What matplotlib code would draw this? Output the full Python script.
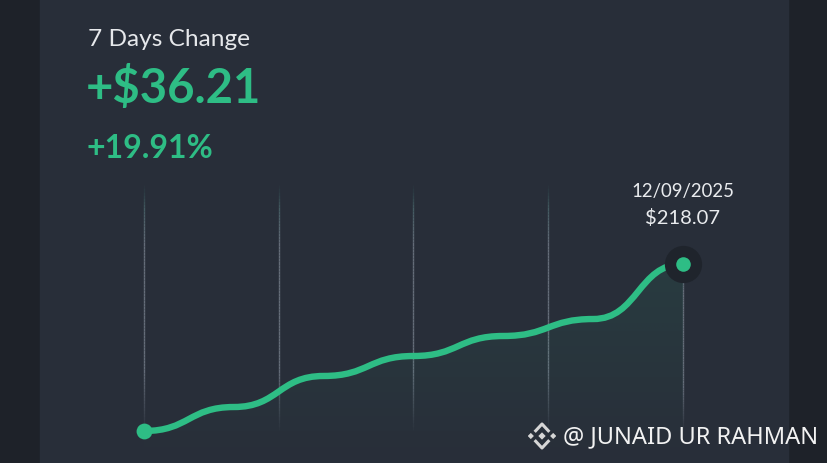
import numpy as np
import matplotlib
matplotlib.use("Agg")
import matplotlib.pyplot as plt
from matplotlib.path import Path
from matplotlib.patches import PathPatch, Rectangle
from matplotlib.collections import LineCollection

# 7 day price history
dates = ["12/03/2025", "12/04/2025", "12/05/2025", "12/06/2025",
         "12/07/2025", "12/08/2025", "12/09/2025"]
prices = [181.86, 187.06, 193.79, 198.12, 202.46, 206.14, 218.07]
change_abs = "+$36.21"
change_pct = "+19.91%"
title = "7 Days Change"
watermark = "@ JUNAID UR RAHMAN"

GREEN = "#2ebd85"
PANEL = "#282e39"
OUTER = "#1e2229"
W, H = 828, 464

fig = plt.figure(figsize=(W / 100, H / 100), dpi=100)
fig.patch.set_facecolor(OUTER)
fig.patches.append(Rectangle((40 / W, 0), 748 / W, 1, transform=fig.transFigure,
                             color=PANEL, zorder=-5))

# axes over the whole figure, scaled so the line sits where it does in the card
ax = fig.add_axes([0, 0, 1, 1])
ax.set_facecolor("none")
ax.axis("off")
x = np.arange(len(prices))
px_per_day = (683 - 144) / (len(prices) - 1)
val_per_px = (prices[-1] - prices[0]) / (432 - 265)
top_val = prices[0] + (432 - 183) * val_per_px
base_val = prices[0] - (H - 432) * val_per_px

# vertical guide lines, fading at both ends
for gx in np.linspace(x[0], x[-1], 5):
    y0 = top_val if gx < x[-1] else prices[-1] + 20 * val_per_px
    y1 = prices[0] - 2 * val_per_px
    ys = np.linspace(y0, y1, 80)
    segs = [[(gx, ys[i]), (gx, ys[i + 1])] for i in range(len(ys) - 1)]
    t = np.linspace(0, 1, len(segs))
    cols = np.zeros((len(segs), 4))
    mix = np.clip(t / 0.25, 0, 1)[:, None]
    cols[:, :3] = (1 - mix) * np.array([0.18, 0.32, 0.33]) + mix * np.array([0.42, 0.45, 0.50])
    cols[:, 3] = np.clip(np.minimum(t / 0.1, (1 - t) / 0.25), 0, 1) * 0.9
    ax.add_collection(LineCollection(segs, colors=cols, linewidths=1.0, zorder=1))

# smooth curve as cubic bezier with flat tangents at each point
verts = [(x[0], prices[0])]
codes = [Path.MOVETO]
for i in range(len(x) - 1):
    dx = x[i + 1] - x[i]
    verts += [(x[i] + dx * 0.5, prices[i]), (x[i + 1] - dx * 0.5, prices[i + 1]),
              (x[i + 1], prices[i + 1])]
    codes += [Path.CURVE4] * 3
line_path = Path(verts, codes)
fill_path = Path(verts + [(x[-1], base_val), (x[0], base_val), (x[0], prices[0])],
                 codes + [Path.LINETO, Path.LINETO, Path.CLOSEPOLY])

fill_patch = PathPatch(fill_path, facecolor="none", edgecolor="none")
ax.add_patch(fill_patch)
grad = np.zeros((100, 2, 4))
grad[:, :, :3] = np.array([46, 189, 133]) / 255
grad[:, :, 3] = np.linspace(0.10, 0.0, 100)[:, None]
img = ax.imshow(grad, extent=(x[0], x[-1], base_val, prices[-1]), origin="upper",
                aspect="auto", zorder=2, interpolation="bilinear")
img.set_clip_path(fill_patch)
ax.set_xlim(-144 / px_per_day, (W - 144) / px_per_day)
ax.set_ylim(prices[0] - (H - 432) * val_per_px, prices[0] + 432 * val_per_px)

ax.add_patch(PathPatch(line_path, facecolor="none", edgecolor=GREEN, lw=4.6,
                       capstyle="round", zorder=3))

# start and end markers
ax.scatter([x[0]], [prices[0]], s=130, color=GREEN, zorder=4, linewidths=0)
ax.scatter([x[-1]], [prices[-1]], s=720, color="#1f242c", zorder=4, linewidths=0)
ax.scatter([x[-1]], [prices[-1]], s=110, color=GREEN, zorder=5, linewidths=0)

# label above the last point
ax.text(x[-1], prices[-1] + 73.5 * val_per_px, dates[-1], color="#e9ebee",
        fontsize=13.4, family="Lato", ha="center", va="center", zorder=6)
ax.text(x[-1], prices[-1] + 47.5 * val_per_px, f"${prices[-1]:.2f}", color="#e9ebee",
        fontsize=14.5, family="Lato", ha="center", va="center", zorder=6)

# header texts
fig.text(88 / W, 1 - 40 / H, title, color="#e6e8eb", fontsize=17.6, family="Lato",
         ha="left", va="center")
fig.text(86 / W, 1 - 89 / H, change_abs, color=GREEN, fontsize=34, family="Lato",
         fontweight="bold", ha="left", va="center")
fig.text(87 / W, 1 - 148 / H, change_pct, color=GREEN, fontsize=23, family="Lato",
         fontweight="bold", ha="left", va="center")

# watermark with a small diamond logo
fig.text(563 / W, 1 - 437 / H, watermark, color="#f2f2f2", fontsize=17,
         family="Noto Sans", ha="left", va="center")
lax = fig.add_axes([528 / W, 1 - 452 / H, 28 / W, 30 / H])
lax.axis("off")
lax.set_xlim(-1, 1)
lax.set_ylim(-1, 1)
lax.scatter([0, -0.8, 0.8], [0, 0, 0], marker="D", s=[14, 10, 10], color="#d6d6d6",
            linewidths=0)
lax.plot([-0.45, 0, 0.45], [0.35, 0.8, 0.35], color="#d6d6d6", lw=2.2)
lax.plot([-0.45, 0, 0.45], [-0.35, -0.8, -0.35], color="#d6d6d6", lw=2.2)

fig.savefig("out.png", dpi=100, facecolor=fig.get_facecolor())
